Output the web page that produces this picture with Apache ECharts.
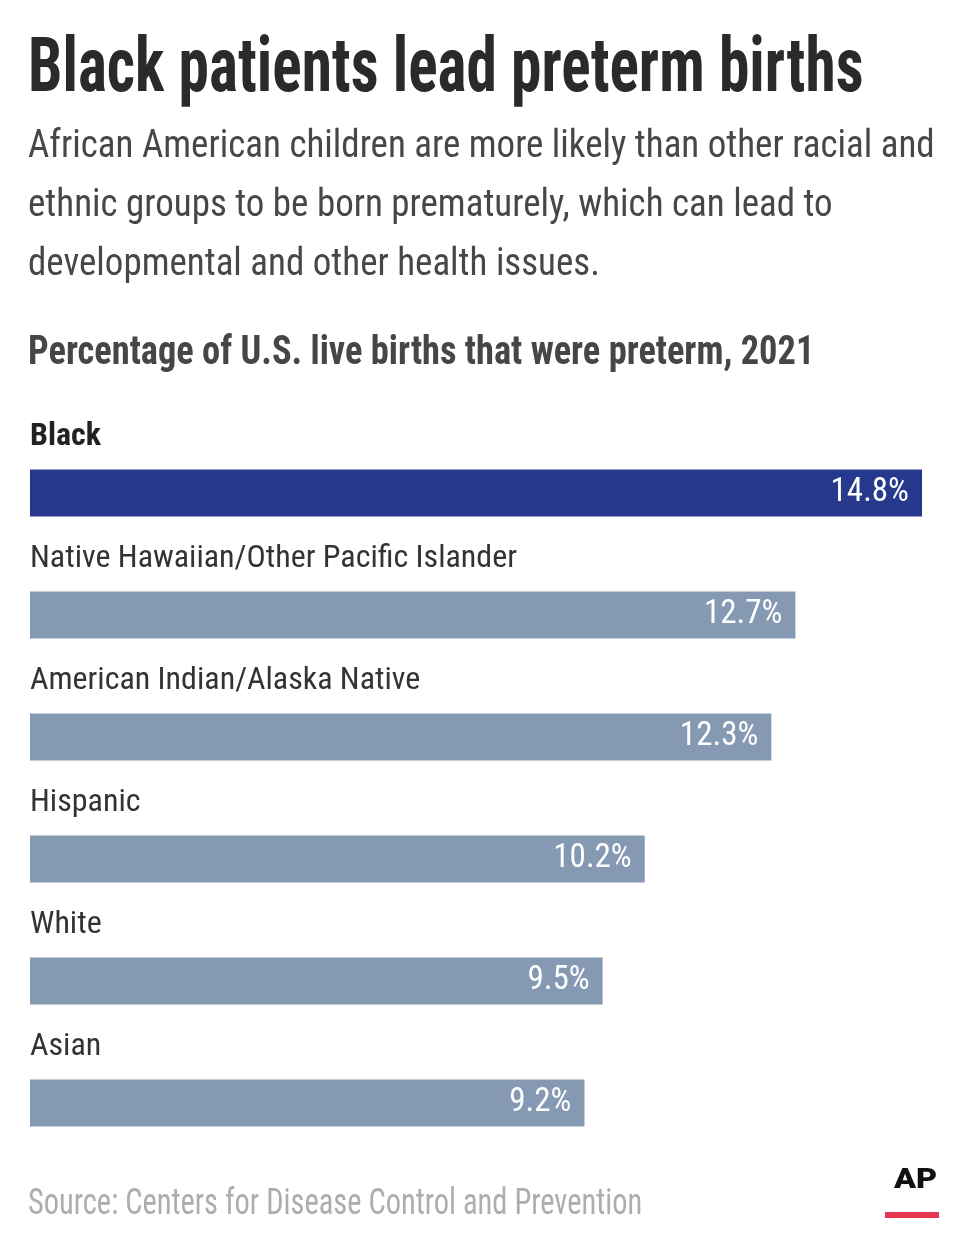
<!DOCTYPE html>
<html>
<head>
<meta charset="utf-8">
<script src="https://cdn.jsdelivr.net/npm/echarts@6/dist/echarts.min.js"></script>
<style>
html,body{margin:0;padding:0;background:#fff;}
#chart{width:960px;height:1249px;}
</style>
</head>
<body>
<div id="chart"></div>
<script>
const categories = ['Black', 'Native Hawaiian/Other Pacific Islander', 'American Indian/Alaska Native', 'Hispanic', 'White', 'Asian'];
const values = [14.8, 12.7, 12.3, 10.2, 9.5, 9.2];
const highlight = 'Black';

const titleText = 'Black patients lead preterm births';
const subtitleLines = [
  'African American children are more likely than other racial and',
  'ethnic groups to be born prematurely, which can lead to',
  'developmental and other health issues.'
];
const headerText = 'Percentage of U.S. live births that were preterm, 2021';
const sourceText = 'Source: Centers for Disease Control and Prevention';

const FONT = "'Roboto Condensed', 'DejaVu Sans Condensed', sans-serif";
const DARK = '#26398c';
const LIGHT = '#8599b3';

const chart = echarts.init(document.getElementById('chart'), null, {renderer: 'canvas'});

const graphics = [];
graphics.push({type: 'text', x: 28, y: 72, scaleX: 0.808, style: {text: titleText, font: 'bold 76px ' + FONT, fill: '#2a2a2a', verticalAlign: 'middle'}});
subtitleLines.forEach((l, i) => {
  graphics.push({type: 'text', x: 28, y: 147 + i * 59, scaleX: 0.973, style: {text: l, font: '38px ' + FONT, fill: '#474747', verticalAlign: 'middle'}});
});
graphics.push({type: 'text', x: 28, y: 354, scaleX: 0.91, style: {text: headerText, font: 'bold 40px ' + FONT, fill: '#464646', verticalAlign: 'middle'}});
graphics.push({type: 'text', x: 28, y: 1205, scaleX: 0.823, style: {text: sourceText, font: '37px ' + FONT, fill: '#adadad', verticalAlign: 'middle'}});
graphics.push({type: 'text', x: 894, y: 1181, scaleX: 1.2, style: {text: 'AP', font: '900 27px Roboto, sans-serif', fill: '#111111', align: 'left', verticalAlign: 'middle'}});
graphics.push({type: 'rect', shape: {x: 885, y: 1212, width: 54, height: 6}, style: {fill: '#e6374f'}});

chart.setOption({
  animation: false,
  backgroundColor: '#ffffff',
  graphic: graphics,
  grid: {left: 30, top: 432, width: 892, height: 732, containLabel: false},
  xAxis: {type: 'value', min: 0, max: 14.8, show: false},
  yAxis: {
    type: 'category',
    inverse: true,
    data: categories,
    axisLine: {show: false},
    axisTick: {show: false},
    splitLine: {show: false},
    axisLabel: {
      inside: true,
      interval: 0,
      margin: 0,
      align: 'left',
      verticalAlign: 'bottom',
      padding: [0, 0, 40, 0],
      formatter: v => (v === highlight ? '{b|' : '{n|') + v + '}',
      rich: {
        b: {fontFamily: FONT, fontSize: 32, fontWeight: 'bold', color: '#222222'},
        n: {fontFamily: FONT, fontSize: 32, color: '#333333'}
      }
    }
  },
  series: [{
    type: 'bar',
    barWidth: 47,
    data: values.map((v, i) => ({value: v, itemStyle: {color: categories[i] === highlight ? DARK : LIGHT}})),
    label: {
      show: true,
      position: 'insideRight',
      distance: 13,
      formatter: p => p.value.toFixed(1) + '%',
      color: '#ffffff',
      fontFamily: FONT,
      fontSize: 33
    }
  }]
});
</script>
</body>
</html>
